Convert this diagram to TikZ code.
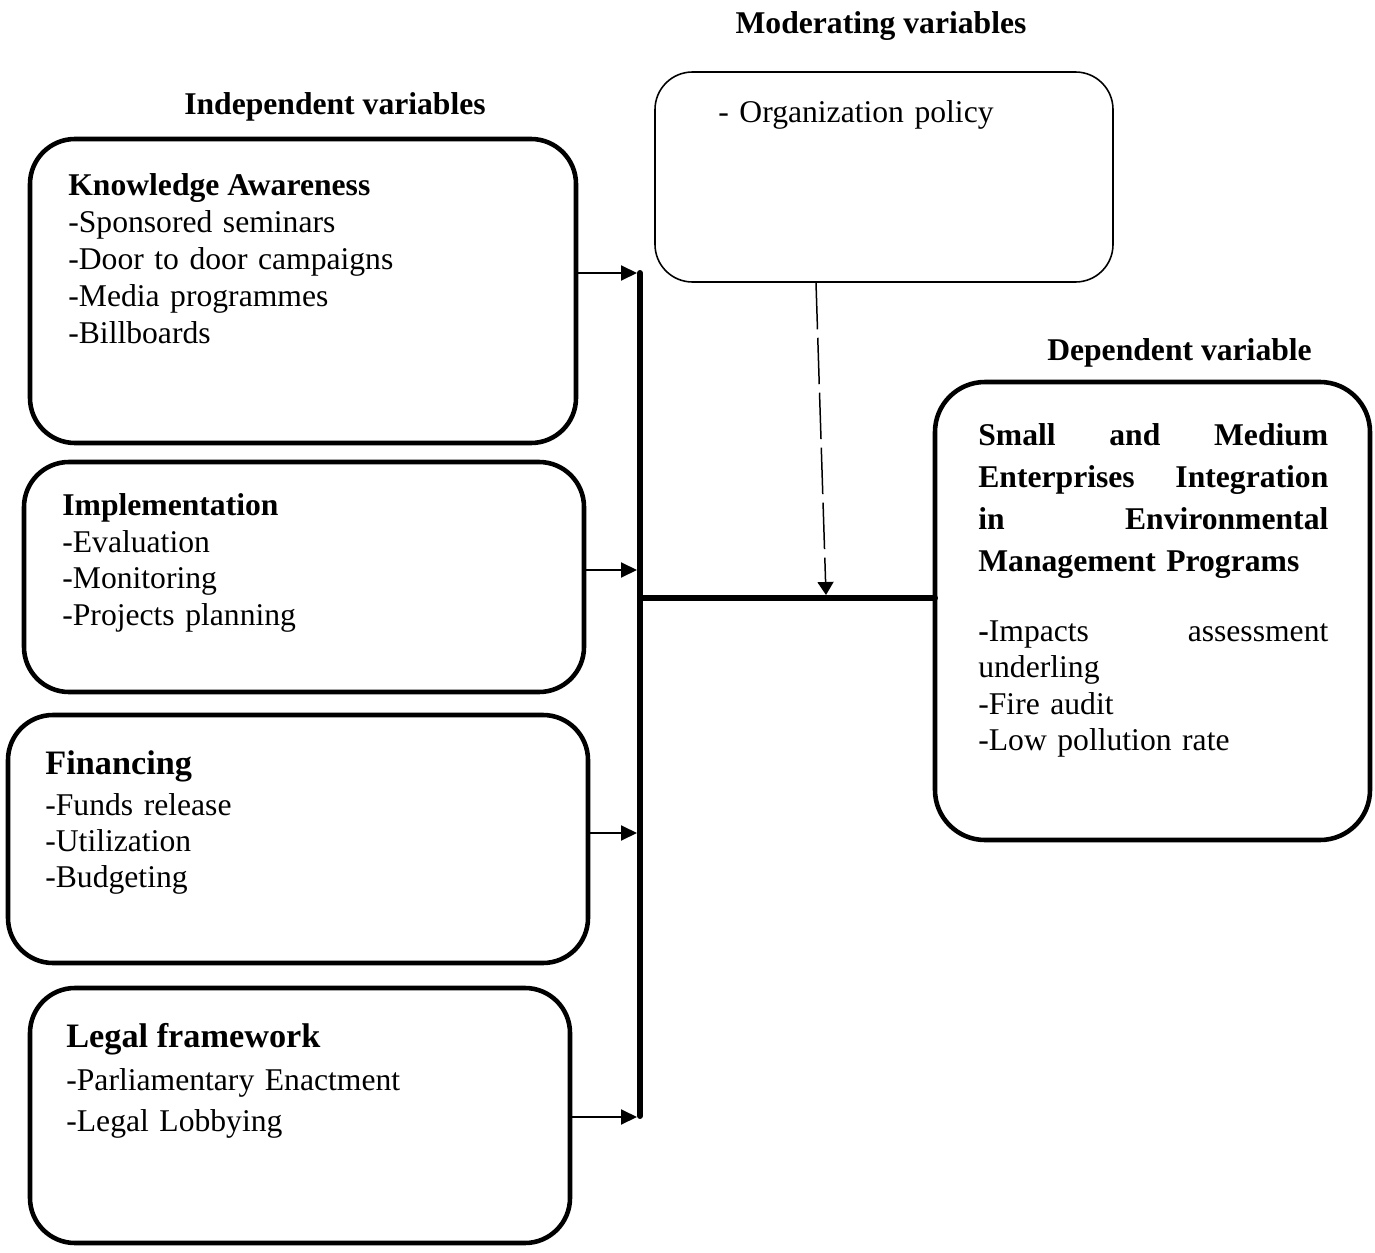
\documentclass[tikz,border=0pt]{standalone}
\usepackage{fontspec}
\setmainfont{Liberation Serif}
\usepackage{tkz-euclide}
\usetikzlibrary{arrows.meta,positioning}
\begin{document}
\begin{tikzpicture}[
  varbox/.style={draw,line width=2.6pt,rounded corners=0.9cm,inner sep=0pt},
  modbox/.style={draw,line width=0.9pt,rounded corners=0.75cm,inner sep=0pt},
  title/.style={font=\fontsize{18}{21}\selectfont\bfseries,inner sep=0pt,anchor=base},
  head/.style={font=\fontsize{18}{21}\selectfont\bfseries,inner sep=0pt,anchor=base west},
  bighead/.style={head,font=\fontsize{19.5}{23}\selectfont\bfseries},
  items/.style={font=\fontsize{18}{21}\selectfont,inner sep=0pt,anchor=base west,
    text width=10cm,align=left},
  feed/.style={-{Triangle[length=0.32cm,width=0.3cm]},line width=1.1pt},
  moder/.style={-{Triangle[length=0.26cm,width=0.32cm]},line width=0.85pt,
    dash pattern=on 0.93cm off 0.17cm}]
  \useasboundingbox (0,0) rectangle (27.5,-25.06);
  \tkzDefPoints{12.8/-5.46/T,12.8/-22.32/U,12.8/-11.96/J,18.7/-11.96/K}
  \tkzDefPoints{12.74/-5.46/a,12.74/-11.4/b,12.74/-16.66/c,12.74/-22.34/d}
  \tkzDefPoints{16.32/-5.64/m,16.52/-11.9/n}
  \node[title] (tind) at (6.7,-2.3) {Independent variables};
  \node[title] (tmod) at (17.62,-0.68) {Moderating variables};
  \node[title] (tdep) at (23.59,-7.22) {Dependent variable};
  \node[varbox,minimum width=10.92cm,minimum height=6.08cm] (ka) at (6.06,-5.82) {};
  \node[varbox,minimum width=11.2cm,minimum height=4.6cm] (im) at (6.08,-11.54) {};
  \node[varbox,minimum width=11.6cm,minimum height=4.96cm] (fi) at (5.96,-16.78) {};
  \node[varbox,minimum width=10.8cm,minimum height=5.1cm] (lf) at (6.0,-22.31) {};
  \node[modbox,minimum width=9.16cm,minimum height=4.2cm] (mod) at (17.68,-3.54) {};
  \node[varbox,rounded corners=1cm,minimum width=8.7cm,minimum height=9.16cm] (dep) at (23.05,-12.22) {};
  \node[head] (kah) at (1.36,-3.92) {Knowledge Awareness};
  \node[items] (kai) at (1.36,-4.66) {-Sponsored seminars\\-Door to door campaigns\\-Media programmes\\-Billboards};
  \node[head] (imh) at (1.24,-10.3) {Implementation};
  \node[items] (imi) at (1.24,-11.04) {-Evaluation\\-Monitoring\\-Projects planning};
  \node[bighead] (fih) at (0.9,-15.48) {Financing};
  \node[items,font=\fontsize{18}{20.7}\selectfont] (fii) at (0.9,-16.3) {-Funds release\\-Utilization\\-Budgeting};
  \node[bighead] (lfh) at (1.32,-20.94) {Legal framework};
  \node[items,font=\fontsize{18}{23.8}\selectfont] (lfi) at (1.32,-21.8) {-Parliamentary Enactment\\-Legal Lobbying};
  \node[items] (modi) at (14.36,-2.46) {- Organization policy};
  \node[items,text width=7cm,font=\fontsize{18}{23.8}\selectfont\bfseries] (deph) at (19.56,-8.92)
    {Small\hfill and\hfill Medium\\Enterprises\hfill Integration\\in\hfill Environmental\\Management Programs};
  \node[items,text width=7cm,font=\fontsize{18}{20.8}\selectfont] (depi) at (19.56,-12.82)
    {\textbf{-}Impacts\hfill assessment\\underling\\-Fire audit\\-Low pollution rate};
  \tkzDrawSegments[line width=3.4pt](T,U J,K)
  \draw[feed] (ka.east |- a) -- (a);
  \draw[feed] (im.east |- b) -- (b);
  \draw[feed] (fi.east |- c) -- (c);
  \draw[feed] (lf.east |- d) -- (d);
  \draw[moder] (mod.south -| m) -- (n);
\end{tikzpicture}
\end{document}
